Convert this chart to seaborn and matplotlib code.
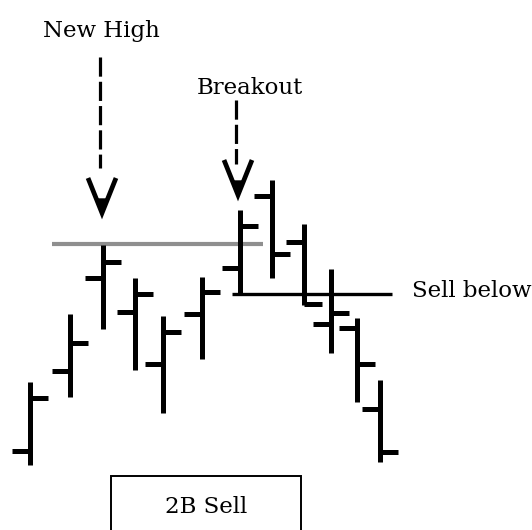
import numpy as np
import pandas as pd
import matplotlib
matplotlib.use("Agg")
import matplotlib.pyplot as plt
import seaborn as sns
from matplotlib.patches import Rectangle

# ---- data (price units; bar positions along the time axis) ----
bar_x = [30, 70, 103, 135, 163, 202, 240, 272, 304, 331, 357, 380]
highs = [148, 216, 285, 252, 214, 253, 320, 350, 306, 261, 212, 150]
lows = [65, 133, 201, 160, 117, 171, 235, 252, 225, 177, 128, 68]
opens = [79, 159, 252, 218, 166, 216, 262, 334, 288, 206, 202, 121]
closes = [132, 187, 268, 236, 198, 238, 304, 276, 226, 217, 166, 78]

new_high_level = 286
sell_level = 236

labels = ["New High", "Breakout", "Sell below", "2B Sell"]

# ---- build long-form segments for seaborn ----
tw = 18  # tick length
rows = []
for i, (x, h, l, o, c) in enumerate(zip(bar_x, highs, lows, opens, closes)):
    rows += [(3 * i, x, l), (3 * i, x, h)]
    rows += [(3 * i + 1, x - tw, o), (3 * i + 1, x, o)]
    rows += [(3 * i + 2, x, c), (3 * i + 2, x + tw, c)]
df = pd.DataFrame(rows, columns=["seg", "x", "p"])

sns.set_style("white")
fig = plt.figure(figsize=(5.32, 5.30), dpi=100)
ax = fig.add_axes([0, 0, 1, 1])
ax.set_xlim(0, 532)
ax.set_ylim(0, 530)

# reference lines
ax.plot([52, 263], [new_high_level, new_high_level], color="#8f8f8f", lw=3.0,
        solid_capstyle="butt", zorder=1)
ax.plot([232, 392], [sell_level, sell_level], color="black", lw=2.4,
        solid_capstyle="butt", zorder=3)

sns.lineplot(data=df, x="x", y="p", units="seg", estimator=None, sort=False,
             color="black", lw=3.6, ax=ax, legend=False, zorder=2,
             solid_capstyle="butt")

fam = ["DejaVu Serif"]
fs = 16.5

# New High annotation
ax.text(101, 493, labels[0], ha="center", va="baseline", fontsize=fs,
        family=fam, color="black")
ax.plot([100, 100], [473, 362], color="black", lw=2.3, ls=(0, (6, 1.6)),
        solid_capstyle="butt")
def arrow_head(xt, yt):
    ax.plot([xt - 14, xt, xt + 14], [yt + 35, yt, yt + 35], color="black",
            lw=3.4, solid_joinstyle="miter", solid_capstyle="butt")
    ax.fill([xt - 5, xt + 5, xt], [yt + 14, yt + 14, yt], color="black")
arrow_head(102, 317)

# Breakout annotation
ax.text(250, 436, labels[1], ha="center", va="baseline", fontsize=fs,
        family=fam, color="black")
ax.plot([236, 236], [430, 366], color="black", lw=2.3, ls=(0, (6, 1.6)),
        solid_capstyle="butt")
arrow_head(238, 335)

# Sell below
ax.text(412, 233, labels[2], ha="left", va="baseline", fontsize=fs,
        family=fam, color="black")

# 2B Sell box
ax.add_patch(Rectangle((111, -20), 190, 74, fill=False, lw=1.4, ec="black"))
ax.text(206, 17, labels[3], ha="center", va="baseline", fontsize=fs,
        family=fam, color="black")

ax.set_axis_off()
fig.savefig("out.png", dpi=100)
